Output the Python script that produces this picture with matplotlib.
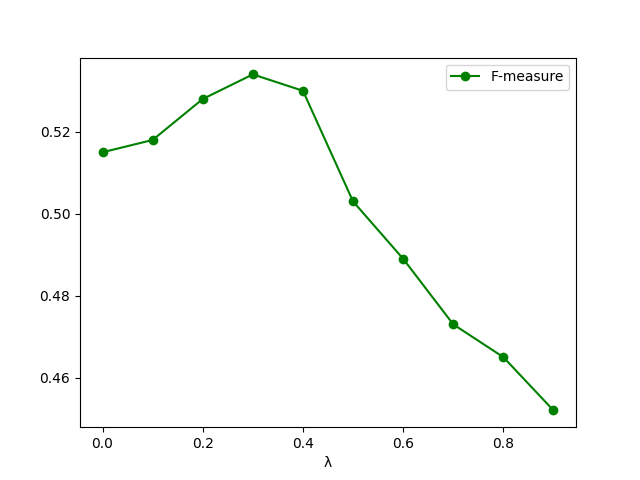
import matplotlib
matplotlib.use("Agg")
import matplotlib.pyplot as plt

# lambda values and measured F-measure
lambdas = [0.0, 0.1, 0.2, 0.3, 0.4, 0.5, 0.6, 0.7, 0.8, 0.9]
f_measure = [0.515, 0.518, 0.528, 0.534, 0.530, 0.503, 0.489, 0.473, 0.465, 0.452]

fig, ax = plt.subplots(figsize=(6.4, 4.8), dpi=100)
ax.plot(lambdas, f_measure, color='green', marker='o', label='F-measure')
ax.set_xlabel('λ')
ax.legend(loc='upper right')

fig.savefig('out.png')
